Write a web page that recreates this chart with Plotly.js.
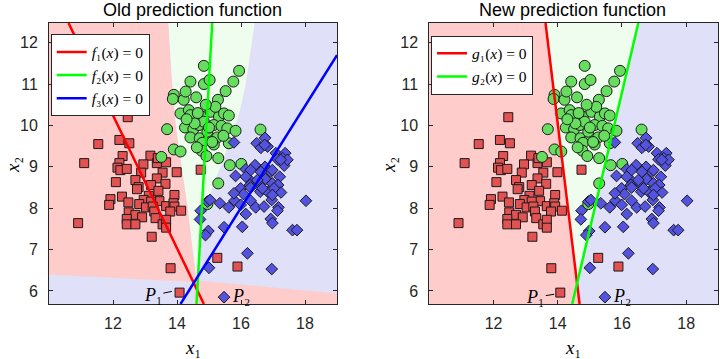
<!DOCTYPE html>
<html><head><meta charset="utf-8">
<script src="https://cdn.plot.ly/plotly-3.0.1.min.js"></script>
<style>html,body{margin:0;padding:0;background:#fff}</style>
</head><body><div id="chart" style="width:725px;height:359px"></div>
<script>
// ---- data: class 1 (red squares) ----
var redX = [11.54,12.20,12.51,11.10,12.30,13.17,12.20,12.14,12.23,12.43,12.95,13.37,13.40,12.88,13.55,13.99,13.37,12.70,12.09,13.64,
            13.19,12.80,12.75,13.42,13.92,12.28,13.12,11.92,12.96,12.48,13.45,13.19,11.88,12.82,13.03,13.24,13.66,13.89,13.92,14.13,
            13.79,13.29,12.49,12.70,12.91,13.33,12.43,13.55,13.66,12.43,12.70,13.66,10.91,13.21,13.80,14.08,14.74,15.26,15.89,12.46,13.66];
var redY = [9.55,9.65,9.57,9.09,9.26,9.27,9.09,8.98,8.92,8.95,9.06,9.09,9.21,8.86,8.86,8.87,8.72,8.68,8.63,8.59,
            8.56,8.51,8.46,8.42,8.32,8.28,8.30,8.22,8.20,8.14,8.17,8.16,8.08,8.10,8.02,8.04,8.05,8.12,8.04,7.94,
            7.92,7.92,7.90,7.84,7.78,7.76,7.74,7.61,7.72,7.61,7.61,7.53,7.64,7.31,6.55,5.96,8.93,6.80,6.59,10.20,9.11];
// ---- class 2 (green circles) ----
var greenX = [14.84,15.94,14.42,14.84,15.02,15.76,13.90,13.87,14.21,14.27,14.60,15.52,15.28,14.11,14.37,14.42,14.79,15.05,15.31,15.47,
              15.62,13.69,14.25,14.51,14.69,14.84,15.15,15.39,15.57,15.83,14.42,14.71,15.00,15.26,14.79,15.15,15.62,13.90,14.11,14.77,
              14.92,15.29,13.51,15.65,15.29,16.01,16.61,14.95,14.55,14.95,15.10,14.62,15.45,14.30,15.20,14.90,14.65,15.00];
var greenY = [11.44,11.32,11.06,11.00,11.10,11.06,10.74,10.64,10.62,10.82,10.68,10.83,10.62,10.29,10.37,10.25,10.21,10.33,10.21,10.29,
              10.24,9.91,9.95,9.91,10.01,10.09,10.01,9.99,9.93,9.87,9.71,9.69,9.73,9.71,9.58,9.54,9.57,9.42,9.37,9.39,
              9.26,9.21,9.24,9.04,8.60,9.07,9.90,8.10,10.05,9.85,9.60,9.47,9.75,10.15,10.45,10.50,10.30,9.95];
// ---- class 3 (blue diamonds) ----
var blueX = [15.78,16.75,16.49,16.62,16.83,17.09,17.38,17.30,17.14,17.35,15.83,16.15,16.44,16.75,16.93,17.21,16.25,15.99,16.28,16.56,
             16.77,16.98,17.16,16.08,16.60,16.83,17.25,14.95,15.03,15.34,15.80,15.62,15.99,16.30,16.46,16.72,16.96,17.17,17.14,18.03,
             16.15,14.74,14.72,16.93,16.98,15.47,16.04,17.61,17.75,14.98,14.89,16.20,15.00,16.96,15.47,16.30,16.62,16.98,16.15,16.51,
             16.30,16.67,17.03,15.78,16.98,17.45,16.74,17.24];
var blueY = [9.59,9.70,9.57,9.46,9.49,9.33,9.33,9.21,9.18,9.03,8.78,8.94,9.04,9.00,8.88,8.76,8.70,8.48,8.56,8.60,
             8.70,8.60,8.56,8.34,8.40,8.40,8.38,8.16,8.20,8.12,8.18,8.02,8.08,8.18,8.02,8.04,8.20,8.02,7.94,8.18,
             7.86,7.94,7.73,7.74,7.64,7.54,7.55,7.47,7.47,7.45,7.35,6.91,6.56,6.53,5.85,8.92,8.88,8.92,8.76,8.68,
             8.50,8.48,8.48,8.36,8.32,9.17,9.53,9.17];
// ---- decision lines (end points) ----
var f1X = [10.61,14.84], f1Y = [12.476,5.685];
var f2X = [15.10,14.61], f2Y = [12.476,5.685];
var f3X = [14.11,19.00], f3Y = [5.685,11.70];
var g1X = [13.62,14.68], g1Y = [12.476,5.685];
var g2X = [14.45,16.51], g2Y = [5.685,12.476];
// ---- background decision regions (vertices) ----
var oldRedX   = [9.9,13.72,13.85,13.98,14.15,14.33,14.48,14.60,14.40,9.9];
var oldRedY   = [12.6,12.6,11.0,9.9,9.0,8.04,7.07,6.25,6.22,6.40];
var oldGreenX = [13.72,16.45,16.15,15.95,15.70,15.43,14.96,14.72,14.62,14.48,14.33,14.15,13.98,13.85];
var oldGreenY = [12.6,12.6,11.0,10.3,9.7,9.16,8.2,7.4,6.25,7.07,8.04,9.0,9.9,11.0];
var oldRed2X  = [14.55,19.1,19.1,14.55];
var oldRed2Y  = [6.26,5.93,5.6,5.6];
var newRedX   = [9.9,13.60,14.69,9.9];
var newRedY   = [12.6,12.6,5.6,5.6];
var newGreenX = [13.60,16.55,14.60];
var newGreenY = [12.6,12.6,6.19];
// ---- text ----
var titles = ['Old prediction function','New prediction function'];
var xTicks = [12,14,16,18];
var yTicks = [6,7,8,9,10,11,12];

var C = {red:'#ffcccc', green:'#effdef', blue:'#e0e0f8'};
function region(x,y,col,xa,ya){return {x:x,y:y,xaxis:xa,yaxis:ya,type:'scatter',mode:'lines',fill:'toself',fillcolor:col,line:{width:0,color:col},hoverinfo:'skip',showlegend:false};}
function pts(x,y,sym,col,size,xa,ya){return {x:x,y:y,xaxis:xa,yaxis:ya,type:'scatter',mode:'markers',marker:{symbol:sym,size:size,color:col,line:{color:'#1a1a1a',width:1}},showlegend:false,hoverinfo:'skip'};}
function ln(x,y,col,name,xa,ya,lg){return {x:x,y:y,xaxis:xa,yaxis:ya,type:'scatter',mode:'lines',line:{color:col,width:2.5},name:name,legend:lg,hoverinfo:'skip'};}

var sqC='#e25252', ciC='#66dd5e', diC='#5353e0';
var traces = [
  region(oldRedX,oldRedY,C.red,'x','y'),
  region(oldGreenX,oldGreenY,C.green,'x','y'),
  region(oldRed2X,oldRed2Y,C.red,'x','y'),
  pts(redX,redY,'square',sqC,9,'x','y'),
  pts(greenX,greenY,'circle',ciC,11,'x','y'),
  pts(blueX,blueY,'diamond',diC,9,'x','y'),
  ln(f1X,f1Y,'#ff0000','<i>f</i>\u2081(<i>x</i>) = 0','x','y','legend'),
  ln(f2X,f2Y,'#00ff00','<i>f</i>\u2082(<i>x</i>) = 0','x','y','legend'),
  ln(f3X,f3Y,'#0000ff','<i>f</i>\u2083(<i>x</i>) = 0','x','y','legend'),
  region(newRedX,newRedY,C.red,'x2','y2'),
  region(newGreenX,newGreenY,C.green,'x2','y2'),
  pts(redX,redY,'square',sqC,9,'x2','y2'),
  pts(greenX,greenY,'circle',ciC,11,'x2','y2'),
  pts(blueX,blueY,'diamond',diC,9,'x2','y2'),
  ln(g1X,g1Y,'#ff0000','<i>g</i>\u2081(<i>x</i>) = 0','x2','y2','legend2'),
  ln(g2X,g2Y,'#00ff00','<i>g</i>\u2082(<i>x</i>) = 0','x2','y2','legend2')
];

var axCol='#262626';
var tickFont={family:'Liberation Sans',size:16,color:axCol};
function xa(dom,anchor){return {domain:dom,range:[10,19],anchor:anchor,tickvals:xTicks,ticks:'inside',ticklen:4,tickcolor:axCol,showline:true,mirror:'ticks',linecolor:axCol,linewidth:1,showgrid:false,zeroline:false,tickfont:tickFont,ticklabelstandoff:5,fixedrange:true};}
function ya(dom,anchor){return {domain:dom,range:[5.685,12.476],anchor:anchor,tickvals:yTicks,ticks:'inside',ticklen:4,tickcolor:axCol,showline:true,mirror:'ticks',linecolor:axCol,linewidth:1,showgrid:false,zeroline:false,tickfont:tickFont,ticklabelstandoff:7,fixedrange:true};}

var serif='Liberation Serif';
var legBase={bgcolor:'#ffffff',bordercolor:axCol,borderwidth:1,xanchor:'left',yanchor:'top',font:{family:serif,size:15.5,color:'#000'},tracegroupgap:0};
var legend1=Object.assign({},legBase,{x:50.7/725,y:(359-34.3)/359});
var legend2=Object.assign({},legBase,{x:431/725,y:(359-35.7)/359});

function ann(text,x,y,xref,yref,extra){return Object.assign({text:text,x:x,y:y,xref:xref,yref:yref,showarrow:false,xanchor:'center',yanchor:'middle',font:{family:serif,size:19,color:'#000'}},extra||{});}
var sansTitle={family:'Liberation Sans',size:18,color:'#000'};
var pFont={family:serif,size:18,color:'#000'};
var annotations=[
  ann(titles[0],192.5/725,(359-10)/359,'paper','paper',{font:sansTitle}),
  ann(titles[1],572.3/725,(359-10)/359,'paper','paper',{font:sansTitle}),
  ann('<i>x</i>\u2081',193/725,12/359,'paper','paper'),
  ann('<i>x</i>\u2081',573/725,12/359,'paper','paper'),
  ann('<i>x</i>\u2082',12/725,(359-165)/359,'paper','paper',{textangle:-90}),
  ann('<i>x</i>\u2082',388/725,(359-165)/359,'paper','paper',{textangle:-90}),
  {text:'<i>P</i>\u2081',x:13.84,y:5.99,xref:'x',yref:'y',showarrow:true,arrowhead:0,arrowwidth:1,arrowcolor:'#000',ax:-19,ay:4,standoff:0,font:pFont},
  ann('<i>P</i>\u2082',15.99,5.89,'x','y',{font:pFont}),
  {text:'<i>P</i>\u2081',x:13.89,y:5.92,xref:'x2',yref:'y2',showarrow:true,arrowhead:0,arrowwidth:1,arrowcolor:'#000',ax:-19,ay:3,standoff:0,font:pFont},
  ann('<i>P</i>\u2082',16.0,5.87,'x2','y2',{font:pFont})
];

var ydom=[55/359,336/359];
var layout={
  width:725,height:359,margin:{l:0,r:0,t:0,b:0},
  paper_bgcolor:'#ffffff',plot_bgcolor:C.blue,
  xaxis:xa([49/725,337/725],'y'),yaxis:ya(ydom,'x'),
  xaxis2:xa([429.3/725,718.3/725],'y2'),yaxis2:ya(ydom,'x2'),
  legend:legend1,legend2:legend2,
  annotations:annotations,
  showlegend:true
};
Plotly.newPlot('chart',traces,layout,{staticPlot:true,displayModeBar:false});
</script></body></html>
